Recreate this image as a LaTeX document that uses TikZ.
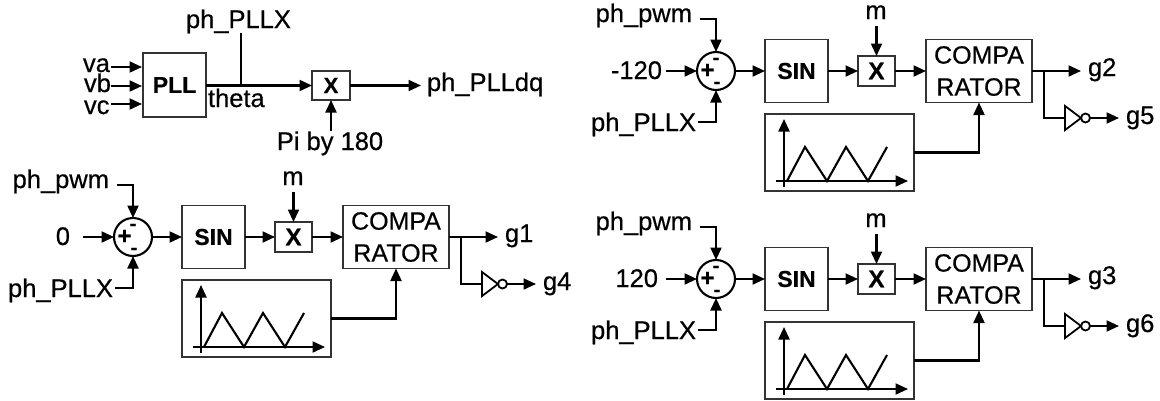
\documentclass[tikz,border=0pt]{standalone}
\usepackage{fontspec}
\setmainfont{Liberation Sans}[RawFeature={embolden=0.5}]
\usetikzlibrary{arrows.meta,shapes.geometric}
\newcommand{\fsz}[2]{\fontsize{#1}{#2}\selectfont}
\tikzset{
  wire/.style={line width=2.1pt,black},
  arr/.style={wire,-{Triangle[length=12.5pt,width=11pt]}},
  blk/.style={draw=black!80,line width=1.8pt,inner sep=0pt,outer sep=0pt,rectangle},
  lbl/.style={inner sep=0pt,outer sep=0pt,font=\fsz{25.5}{30}},
  bsym/.style={inner sep=0pt,outer sep=0pt,font=\fsz{24}{24}\bfseries},
  sumc/.style={draw=black,line width=2.1pt,circle,minimum size=38pt,inner sep=0pt,outer sep=0pt},
  invt/.style={draw=black,line width=1.8pt,isosceles triangle,isosceles triangle stretches,
     minimum width=24pt,minimum height=16pt,inner sep=0pt,outer sep=0pt},
  bub/.style={draw=black,line width=1.8pt,circle,minimum size=9pt,inner sep=0pt,outer sep=0pt},
}
\newcommand{\pwmblock}[7]{%
\begin{scope}[shift={(#2,#3)}]
  \node[sumc] (sum#1) at (133,237) {};
  \node[bsym] (plus#1) at (124.5,237) {+};
  \node[bsym,font=\fsz{20}{20}\bfseries] (mta#1) at (133,227) {-};
  \node[bsym,font=\fsz{20}{20}\bfseries] (mtb#1) at (134,251) {-};
  \node[blk,minimum width=63pt,minimum height=63pt,font=\fsz{23}{28}\bfseries] (sin#1) at (213.5,237) {SIN};
  \node[blk,minimum width=37pt,minimum height=30pt,font=\fsz{24}{28}\bfseries] (x#1) at (293.5,237) {X};
  \node[blk,minimum width=106pt,minimum height=63pt,align=center,font=\fsz{25}{32}] (cmp#1) at (396,237) {COMPA\\RATOR};
  \node[blk,minimum width=149pt,minimum height=77pt] (tri#1) at (256.5,318.5) {};
  \node[lbl,anchor=base east] (pwm#1) at (109,188) {ph\_pwm};
  \node[lbl,anchor=base east] (in#1) at (#5,245) {#4};
  \node[lbl,anchor=base east] (pll#1) at (113,297) {ph\_PLLX};
  \node[lbl,anchor=base] (m#1) at (293,185) {m};
  \node[lbl,anchor=base west] (g#1) at (505,242) {#6};
  \node[lbl,anchor=base west] (gi#1) at (543,290) {#7};
  \node[invt,anchor=west] (inv#1) at (482,284) {};
  \node[bub,anchor=west] (bub#1) at (inv#1.east) {};
  \coordinate (pwmS#1) at (117,185);
  \coordinate (inS#1) at (83,237);
  \coordinate (pllS#1) at (115,288);
  \coordinate (mS#1) at (293.5,192);
  \coordinate (gE#1) at (498,237);
  \coordinate (br#1) at (461,237);
  \coordinate (giE#1) at (536,284);
  \draw[arr] (pwmS#1) -| (sum#1.north);
  \draw[arr] (pllS#1) -| (sum#1.south);
  \draw[arr] (inS#1) -- (sum#1.west);
  \draw[arr] (sum#1.east) -- (sin#1.west);
  \draw[arr] (sin#1.east) -- (x#1.west);
  \draw[arr] (x#1.east) -- (cmp#1.west);
  \draw[arr] (mS#1) -- (x#1.north);
  \draw[arr] (cmp#1.east) -- (gE#1);
  \draw[wire] (br#1) |- (inv#1.west);
  \draw[arr] (bub#1.east) -- (giE#1);
  \draw[arr] (tri#1.east) -| (cmp#1.south);
  \draw[arr] (201,353) -- (201,285);
  \draw[arr] (193,347) -- (325,347);
  \draw[wire] (204,347) -- (222,313) -- (244,347) -- (263,313) -- (285,347) -- (304,313);
\end{scope}}
\begin{document}
\begin{tikzpicture}[x=1pt,y=-1pt]
  \useasboundingbox[fill=white] (0,0) rectangle (1160,400);
  % top PLL section
  \node[blk,minimum width=63pt,minimum height=64pt,font=\fsz{23}{28}\bfseries] (pll) at (174.5,85) {PLL};
  \node[blk,minimum width=38pt,minimum height=29pt,font=\fsz{22}{24}\bfseries] (mul) at (331,85.5) {X};
  \node[lbl,anchor=base west] (va) at (83,72) {va};
  \node[lbl,anchor=base west] (vb) at (84,92) {vb};
  \node[lbl,anchor=base west] (vc) at (84,114) {vc};
  \node[lbl,anchor=base west] (theta) at (208,107) {theta};
  \node[lbl,anchor=base west] (plx) at (186,28) {ph\_PLLX};
  \node[lbl,anchor=base west] (pdq) at (427,91) {ph\_PLLdq};
  \node[lbl,anchor=base] (pib) at (330,150) {Pi by 180};
  \coordinate (vaS) at (111,67);
  \coordinate (vbS) at (111,86);
  \coordinate (vcS) at (111,104);
  \coordinate (vaE) at (142,67);
  \coordinate (vbE) at (142,86);
  \coordinate (vcE) at (142,104);
  \coordinate (tap) at (241,85.5);
  \coordinate (plxS) at (241,33);
  \coordinate (pdqE) at (421,85.5);
  \coordinate (pibS) at (331,131);
  \draw[arr] (vaS) -- (vaE);
  \draw[arr] (vbS) -- (vbE);
  \draw[arr] (vcS) -- (vcE);
  \draw[wire] (plxS) -- (tap);
  \draw[arr] (pll.east |- mul.west) -- (mul.west);
  \draw[arr] (mul.east) -- (pdqE);
  \draw[arr] (pibS) -- (mul.south);
  % PWM sections
  \pwmblock{A}{0}{0}{0}{70}{g1}{g4}
  \pwmblock{B}{583}{-166}{-120}{79}{g2}{g5}
  \pwmblock{C}{583}{42}{120}{75}{g3}{g6}
\end{tikzpicture}
\end{document}
